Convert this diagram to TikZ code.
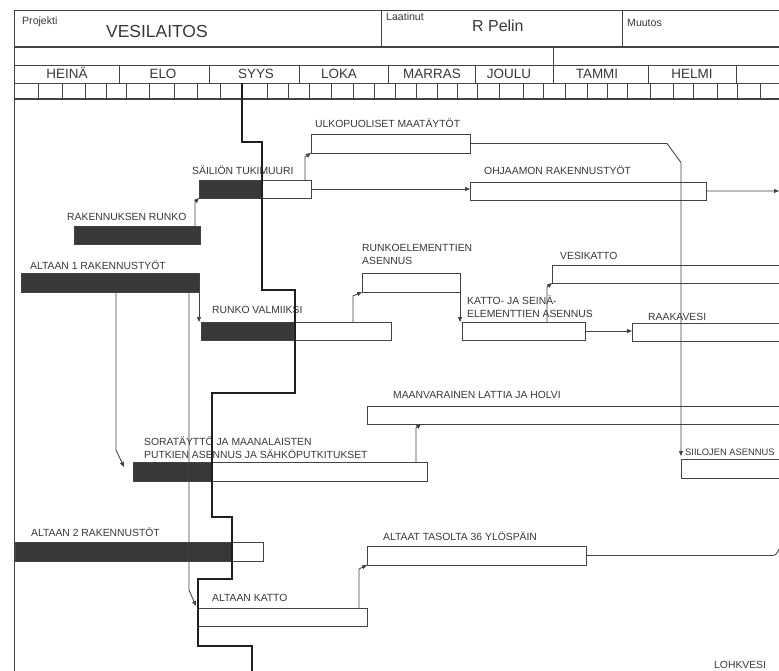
\documentclass[tikz,border=0pt]{standalone}
\usepackage{fontspec}
\setmainfont{Liberation Sans}
\usetikzlibrary{arrows.meta,calc}
\definecolor{ink}{gray}{0.26}
\definecolor{txt}{gray}{0.22}
\definecolor{barfill}{gray}{0.22}
\newcommand\ganttbox[6]{\node[#1, minimum width=#5 bp, minimum height=#6 bp] (#2) at (#3,#4) {};}
\begin{document}
\begin{tikzpicture}[x=1bp,y=-1bp,
  box/.style={draw=ink, line width=0.85bp, fill=white, inner sep=0, outer sep=0, anchor=north west},
  darkbar/.style={fill=barfill, draw=ink, line width=0.85bp, inner sep=0, outer sep=0, anchor=north west},
  lbl/.style={anchor=base west, inner sep=0, text=txt, font=\fontsize{10.4}{13}\selectfont},
  lbltwo/.style={anchor=west, inner sep=0, text=txt, align=left, font=\fontsize{10.4}{13}\selectfont},
  mon/.style={anchor=base, inner sep=0, text=txt, font=\fontsize{13.5}{16}\selectfont},
  small/.style={anchor=base west, inner sep=0, text=txt, font=\fontsize{10.6}{13}\selectfont},
  conn/.style={draw=ink, line width=0.85bp},
  arr/.style={conn, -{Triangle[length=5bp,width=4bp]}},
  crit/.style={draw=black!88, line width=2.2bp},
  hdr/.style={draw=ink, line width=0.8bp},
]
\useasboundingbox (0,0) rectangle (779,671);
\clip (0,0) rectangle (779,671);
\fill[white] (0,0) rectangle (779,671);

% ---------------- header ----------------
\draw[hdr] (14,10) -- (779,10);
\draw[hdr] (14,10) -- (14,671);
\draw[hdr] (381,10) -- (381,47);
\draw[hdr] (622,10) -- (622,47);
\draw[hdr, line width=1.1bp] (14,47) -- (779,47);
\draw[hdr] (14,65) -- (779,65);
\draw[hdr] (553,47) -- (553,83);
\foreach \x in {119,209,299,388,475,648,736} \draw[hdr] (\x,65) -- (\x,83);
\draw[hdr] (14,83) -- (779,83);
\foreach \x in {38,62,85,106,126,149,174,197,220,267,288,309,331,353,374,395,416,437,457,477,499,523,543,565,587,607,627,650,673,693,717,737,760}
  \draw[hdr, line width=0.6bp] (\x,83) -- (\x,99);
\draw[hdr, line width=1.2bp] (14,99) -- (779,99);

\node[small] (hproj) at (22,25) {Projekti};
\node[anchor=base west, inner sep=0, text=txt, font=\fontsize{17.5}{20}\selectfont] (htitle) at (106,38) {VESILAITOS};
\node[small] (hlaat) at (386,21) {Laatinut};
\node[anchor=base west, inner sep=0, text=txt, font=\fontsize{16}{19}\selectfont] (hname) at (472,32) {R Pelin};
\node[small] (hmuut) at (627,27) {Muutos};

\node[mon] (m1) at (67,79) {HEINÄ};
\node[mon] (m2) at (163,79) {ELO};
\node[mon] (m3) at (256,79) {SYYS};
\node[mon] (m4) at (339,79) {LOKA};
\node[mon] (m5) at (432,79) {MARRAS};
\node[mon] (m6) at (509,79) {JOULU};
\node[mon] (m7) at (597,79) {TAMMI};
\node[mon] (m8) at (692,79) {HELMI};

% ---------------- task boxes ----------------
\ganttbox{box}{ul}{311}{134}{159}{19}
\ganttbox{box}{st}{199}{180}{112}{18}
\ganttbox{darkbar}{st-d}{199}{180}{63}{18}
\ganttbox{box}{oh}{470}{182}{236}{18}
\ganttbox{darkbar}{rr}{74}{226}{126}{18}
\ganttbox{box}{vk}{552}{265}{240}{18}
\ganttbox{darkbar}{a1}{21}{273}{178}{19}
\ganttbox{box}{re}{362}{273}{98}{19}
\ganttbox{box}{rv}{201}{322}{190}{18}
\ganttbox{darkbar}{rv-d}{201}{322}{92}{18}
\ganttbox{box}{ks}{462}{322}{123}{18}
\ganttbox{box}{rk}{632}{323}{160}{18}
\ganttbox{box}{ml}{367}{406}{425}{18}
\ganttbox{box}{si}{681}{459}{111}{19}
\ganttbox{box}{so}{133}{462}{294}{19}
\ganttbox{darkbar}{so-d}{133}{462}{79}{19}
\ganttbox{box}{a2}{15}{542}{248}{19}
\ganttbox{darkbar}{a2-d}{15}{542}{217}{19}
\ganttbox{box}{at}{367}{546}{219}{19}
\ganttbox{box}{ak}{198}{608}{169}{18}

% ---------------- labels ----------------
\node[lbl] (l-ul) at (315,128) {ULKOPUOLISET MAATÄYTÖT};
\node[lbl] (l-st) at (192,174) {SÄILIÖN TUKIMUURI};
\node[lbl] (l-oh) at (484,174) {OHJAAMON RAKENNUSTYÖT};
\node[lbl] (l-rr) at (67,220) {RAKENNUKSEN RUNKO};
\node[lbltwo] (l-re) at (362,254.5) {RUNKOELEMENTTIEN\\ASENNUS};
\node[lbl] (l-vk) at (560,259) {VESIKATTO};
\node[lbl] (l-a1) at (30,269) {ALTAAN 1 RAKENNUSTYÖT};
\node[lbltwo] (l-ks) at (467,306.5) {KATTO- JA SEINÄ-\\ELEMENTTIEN ASENNUS};
\node[lbl] (l-rv) at (212,313) {RUNKO VALMIIKSI};
\node[lbl] (l-rk) at (648,320) {RAAKAVESI};
\node[lbl] (l-ml) at (393,398) {MAANVARAINEN LATTIA JA HOLVI};
\node[lbltwo] (l-so) at (144,447.5) {SORATÄYTTÖ JA MAANALAISTEN\\PUTKIEN ASENNUS JA SÄHKÖPUTKITUKSET};
\node[lbl, font=\fontsize{9.4}{12}\selectfont] (l-si) at (685,455) {SIILOJEN ASENNUS};
\node[lbl] (l-a2) at (31,536) {ALTAAN 2 RAKENNUSTÖT};
\node[lbl] (l-at) at (383,540) {ALTAAT TASOLTA 36 YLÖSPÄIN};
\node[lbl] (l-ak) at (212,601) {ALTAAN KATTO};
\node[lbl] (l-lo) at (714,668) {LOHKVESI};

% ---------------- connectors ----------------
\coordinate (ohout) at (779,191);
\coordinate (atout) at (779,549);

\draw[arr] ($(st.south west |- rr.north)+(-4,0)$) -- ($(st.south west)+(-4,4)$) -- (st.south west);
\draw[arr] ($(ul.south west |- st.north)+(-6,0)$) -- ($(ul.south west)+(-6,4)$) -- (ul.south west);
\draw[arr] ($(re.south west |- rv.north)+(-9,0)$) -- ($(re.south west)+(-9,4)$) -- (re.south west);
\draw[arr] ($(vk.south west |- ks.north)+(-5,0)$) -- ($(vk.south west)+(-5,4)$) -- (vk.south west);
\draw[arr] ($(so.north east)+(-11,0)$) -- ($(so.north east |- ml.south)+(-11,4)$) -- ($(so.north east |- ml.south)+(-6,0)$);
\draw[arr] ($(at.south west |- ak.north)+(-8,0)$) -- ($(at.south west)+(-8,4)$) -- (at.south west);
\draw[arr] ($(a1.south west)+(95,0)$) -- ($(so.north west)+(-17,-12)$) -- ($(so.north west)+(-9,5)$);
\draw[arr] ($(a1.south west)+(168,0)$) -- ($(ak.north west)+(-9,-18)$) -- ($(ak.north west)+(-2,-2)$);
\draw[arr] (a1.south east) -- (a1.south east |- rv.north);
\draw[arr] (re.south east) -- (re.south east |- ks.north);
\draw[arr] (ks.east) -- (ks.east -| rk.west);
\draw[arr] (st.east) -- (st.east -| oh.west);
\draw[arr] (oh.east) -- (ohout);
\draw[arr] (ul.east) -- ($(ul.east -| si.north west)+(-14,0)$) -- ($(si.north west |- ul.east)+(0,19)$) -- ($(si.north west)+(0,-3)$);
\draw[conn] (at.east) -- ($(at.east)+(186,0)$) .. controls ($(at.east)+(190,0)$) and ($(at.east)+(191,-2)$) .. (atout);

% ---------------- critical path ----------------
\draw[crit, line join=miter] (242,83) -- (242,142) -- (262,142) -- (262,290) -- (295,290) -- (295,393)
  -- (212,393) -- (212,517) -- (232,517) -- (232,579) -- (198,579) -- (198,646) -- (252,646) -- (252,671);
\end{tikzpicture}
\end{document}
